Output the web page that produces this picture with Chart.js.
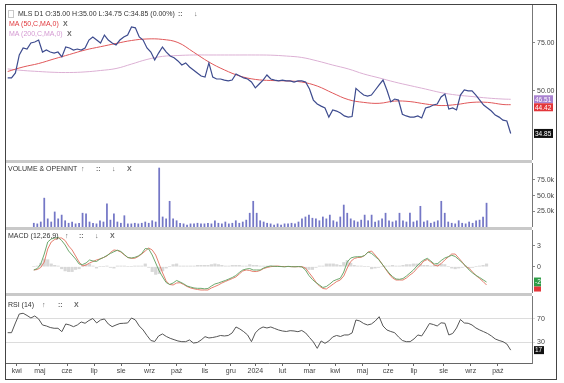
<!DOCTYPE html>
<html>
<head>
<meta charset="utf-8">
<script src="https://cdn.jsdelivr.net/npm/chart.js@4.4.1/dist/chart.umd.min.js"></script>
<style>
  html, body { margin: 0; padding: 0; background: #fff; }
  #wrap { position: relative; width: 564px; height: 383px; overflow: hidden; font-family: "Liberation Sans", Arial, sans-serif; }
  #frame { position: absolute; left: 5px; top: 4px; width: 552px; height: 376px; box-sizing: border-box; border: 1px solid #444; }
  canvas { position: absolute; left: 6px; }
  .sep { position: absolute; left: 6px; width: 526px; height: 3px; background: #c9c9c9; }
  .t { position: absolute; font-size: 7px; line-height: 8px; color: #333; white-space: nowrap; transform: translateY(-50%); }
  .i { color: #666; font-weight: bold; }
</style>
</head>
<body>
<div id="wrap">
  <div id="frame"></div>
  <canvas id="cPrice" width="549" height="155" style="top:5px"></canvas>
  <div class="sep" style="top:160px"></div>
  <canvas id="cVol" width="549" height="64" style="top:163px"></canvas>
  <div class="sep" style="top:227px"></div>
  <canvas id="cMacd" width="549" height="63" style="top:230px"></canvas>
  <div class="sep" style="top:293px"></div>
  <canvas id="cRsi" width="549" height="82" style="top:296px"></canvas>

  <div class="t" style="left:8px;top:14px;width:4px;height:6px;border:1px solid #c8c8c8;"></div>
  <div class="t" style="left:18px;top:14px">MLS D1 O:35.00 H:35.00 L:34.75 C:34.85 (0.00%)</div>
  <div class="t i" style="left:178px;top:14px">::</div>
  <div class="t i" style="left:194px;top:14px">↓</div>
  <div class="t" style="left:9px;top:24px;color:#e0393e">MA (50,C,MA,0)</div>
  <div class="t i" style="left:63px;top:24px">X</div>
  <div class="t" style="left:9px;top:34px;color:#d49ad2">MA (200,C,MA,0)</div>
  <div class="t i" style="left:67px;top:34px">X</div>

  <div class="t" style="left:8px;top:169px">VOLUME &amp; OPENINT</div>
  <div class="t i" style="left:81px;top:169px">↑</div>
  <div class="t i" style="left:96px;top:169px">::</div>
  <div class="t i" style="left:112px;top:169px">↓</div>
  <div class="t i" style="left:127px;top:169px">X</div>

  <div class="t" style="left:8px;top:236px">MACD (12,26,9)</div>
  <div class="t i" style="left:65px;top:236px">↑</div>
  <div class="t i" style="left:79px;top:236px">::</div>
  <div class="t i" style="left:95px;top:236px">↓</div>
  <div class="t i" style="left:110px;top:236px">X</div>

  <div class="t" style="left:8px;top:305px">RSI (14)</div>
  <div class="t i" style="left:42px;top:305px">↑</div>
  <div class="t i" style="left:58px;top:305px">::</div>
  <div class="t i" style="left:74px;top:305px">X</div>
</div>
<script>
// trading-day index 0 = first session of April 2023, one sample every 3 sessions
const FIRST_DAY = -7;
const STEP = 3;
const X_MIN = -8.3;
const X_MAX = 399.5;

const monthDays = [0, 18, 39, 60, 81, 103, 124, 146, 166, 185, 206, 227, 247, 268, 288, 308, 331, 352, 373];
const monthLabels = ['kwi', 'maj', 'cze', 'lip', 'sie', 'wrz', 'paź', 'lis', 'gru', '2024', 'lut', 'mar', 'kwi', 'maj', 'cze', 'lip', 'sie', 'wrz', 'paź'];

const closes = [
  55.7, 55.7, 58.1, 67.6, 71.7, 71.1, 74.8, 75.4, 76.7, 69.3,
  70.5, 69.3, 68.7, 69.3, 66.5, 72.3, 71.7, 70.5, 71.1, 70.5,
  71.7, 76.7, 78.7, 76.7, 74.8, 80.0, 76.7, 74.8, 73.6, 76.7,
  78.7, 80.0, 85.6, 85.0, 78.7, 76.7, 71.7, 69.3, 64.8, 68.7,
  72.3, 69.3, 67.0, 66.0, 64.3, 62.1, 63.2, 61.1, 59.6, 58.1,
  56.6, 56.1, 63.2, 56.1, 55.2, 55.2, 54.7, 54.3, 54.7, 57.6,
  56.6, 55.7, 55.2, 53.8, 51.2, 52.9, 54.7, 57.1, 55.2, 54.7,
  54.3, 54.7, 54.3, 54.3, 53.8, 54.3, 54.3, 53.8, 50.7, 46.2,
  44.7, 43.9, 43.2, 40.0, 42.5, 42.1, 41.4, 40.4, 40.0, 40.2,
  51.0, 49.5, 48.2, 47.8, 48.2, 50.3, 52.5, 54.7, 50.3, 45.5,
  46.6, 46.2, 41.0, 40.4, 40.0, 40.0, 40.4, 39.7, 43.2, 43.6,
  44.3, 44.7, 47.4, 48.6, 42.8, 43.2, 42.5, 48.2, 50.3, 49.9,
  49.9, 48.2, 46.2, 44.3, 43.2, 42.1, 40.7, 40.0, 39.0, 38.7,
  34.85
];

const maDays = [-7, 5, 17, 29, 41, 53, 65, 77, 89, 101, 113, 125, 137, 149, 161, 173, 185,
  197, 209, 221, 233, 245, 257, 269, 281, 293, 305, 317, 329, 341, 353, 365, 377, 383];
const ma50 = [58.8, 61.1, 62.9, 65.4, 67.9, 70.5, 72.5, 74.5, 76.4, 77.4, 77.1, 75.1, 69.3, 63.7, 59.6, 56.6, 55.0,
  54.5, 54.3, 53.8, 52.0, 49.0, 46.4, 45.3, 44.95, 45.8, 45.6, 44.7, 44.1, 44.5, 45.3, 45.3, 44.5, 44.42];
const ma200 = [60.1, 59.3, 58.8, 58.4, 58.3, 58.6, 59.3, 60.3, 62.6, 65.1, 66.8, 67.3, 67.6, 67.6, 67.6, 67.6, 67.6,
  67.5, 67.0, 66.2, 64.3, 62.1, 60.1, 57.6, 55.7, 53.8, 52.2, 50.7, 49.2, 48.2, 47.6, 47.0, 46.6, 46.51];

const volumes = [
  6000, 5000, 8000, 46000, 13000, 8000, 24000, 13000, 19000, 10000,
  6000, 8000, 5000, 6000, 22000, 21000, 8000, 6000, 5000, 10000,
  8000, 37000, 11000, 21000, 8000, 6000, 18000, 5000, 5000, 6000,
  5000, 6000, 8000, 6000, 10000, 8000, 94000, 16000, 13000, 41000,
  13000, 10000, 6000, 5000, 3000, 5000, 5000, 6000, 5000, 5000,
  6000, 5000, 10000, 6000, 5000, 8000, 5000, 6000, 10000, 6000,
  8000, 11000, 22000, 41000, 22000, 10000, 8000, 6000, 5000, 3000,
  5000, 3000, 5000, 5000, 6000, 5000, 8000, 13000, 16000, 19000,
  14000, 13000, 10000, 16000, 13000, 19000, 10000, 8000, 16000, 35000,
  22000, 13000, 10000, 8000, 11000, 19000, 10000, 19000, 8000, 10000,
  13000, 22000, 10000, 8000, 10000, 22000, 10000, 8000, 22000, 8000,
  10000, 33000, 8000, 10000, 6000, 8000, 10000, 41000, 22000, 8000,
  6000, 5000, 10000, 6000, 5000, 8000, 6000, 10000, 11000, 16000,
  38000
];

const macd = [
  -0.47, -0.26, 0.39, 1.81, 3.53, 3.96, 4.10, 4.17, 3.74, 3.10,
  2.24, 1.67, 1.10, 0.39, 0.31, 0.53, 0.96, 0.81, 0.74, 1.10,
  1.31, 1.60, 1.89, 2.14, 2.36, 2.17, 1.74, 1.31, 1.24, 1.34,
  1.53, 1.89, 2.60, 2.53, 1.67, 0.53, -0.61, -1.47, -2.26, -2.54,
  -2.33, -1.97, -2.19, -2.43, -2.76, -2.90, -3.04, -3.09, -3.09, -3.16,
  -3.11, -2.76, -2.47, -2.33, -2.14, -1.97, -1.76, -1.54, -1.26, -0.83,
  -0.47, -0.33, -0.26, -0.47, -0.47, -0.47, -0.19, 0.0, 0.10, 0.06,
  0.03, 0.02, -0.03, 0.05, 0.01, -0.02, 0.03, -0.04, -0.47, -1.26,
  -1.83, -2.26, -2.61, -2.97, -2.83, -2.47, -2.04, -1.83, -1.66, -0.76,
  0.67, 1.24, 1.39, 1.43, 1.43, 1.60, 2.10, 1.89, 1.46, 1.03,
  0.39, -0.26, -0.90, -1.40, -1.76, -1.80, -1.69, -1.33, -0.90, -0.47,
  0.10, 0.60, 0.96, 1.20, 0.81, 0.39, 0.46, 0.89, 1.24, 1.43,
  1.63, 1.46, 1.03, 0.60, 0.10, -0.47, -0.90, -1.26, -1.54, -1.87,
  -2.19
];
const signal = [
  -0.47, -0.40, -0.11, 0.67, 2.53, 3.53, 3.89, 4.10, 4.10, 3.74,
  2.96, 2.39, 1.53, 0.67, 0.10, 0.24, 0.53, 0.74, 0.96, 1.10,
  1.31, 1.53, 2.03, 2.39, 2.31, 2.10, 1.67, 1.31, 1.20, 1.20,
  1.46, 1.81, 2.24, 2.67, 2.39, 1.67, 0.39, -0.90, -2.04, -2.54,
  -2.61, -2.33, -2.29, -2.54, -2.83, -3.04, -3.16, -3.26, -3.33, -3.33,
  -3.33, -3.04, -2.83, -2.61, -2.33, -2.11, -1.90, -1.69, -1.47, -1.04,
  -0.61, -0.47, -0.54, -0.69, -0.69, -0.54, -0.26, -0.11, 0.0, 0.06,
  0.10, 0.03, 0.03, 0.03, 0.0, 0.0, 0.0, 0.0, -0.19, -0.83,
  -1.47, -2.19, -2.76, -3.11, -3.19, -2.83, -2.47, -2.11, -1.90, -1.33,
  -0.19, 0.74, 1.17, 1.31, 1.34, 1.60, 2.10, 2.24, 1.67, 1.10,
  0.39, -0.33, -1.04, -1.61, -1.90, -1.90, -1.90, -1.61, -1.19, -0.83,
  -0.26, 0.24, 0.81, 1.03, 0.67, 0.24, 0.10, 0.46, 0.96, 1.39,
  1.81, 1.81, 1.24, 0.67, 0.03, -0.23, -0.76, -1.26, -1.69, -2.11,
  -2.61
];
const histogram = [
  0, 0.1, 0.5, 1.1, 1.0, 0.4, 0.2, 0.1, -0.3, -0.6,
  -0.7, -0.7, -0.4, -0.3, 0.2, 0.3, 0.4, 0.1, -0.2, 0,
  0, 0.1, -0.1, -0.2, 0.1, 0.1, 0.1, 0, 0, 0.1,
  0.1, 0.1, 0.4, -0.1, -0.7, -1.1, -1.0, -0.6, -0.2, 0,
  0.3, 0.4, 0.1, 0.1, 0.1, 0.1, 0.1, 0.2, 0.2, 0.2,
  0.2, 0.3, 0.4, 0.3, 0.2, 0.1, 0.1, 0.2, 0.2, 0.2,
  0.1, 0.1, 0.3, 0.2, 0.2, 0.1, 0.1, 0.1, 0.1, 0,
  0, 0, 0, 0, 0, 0, 0, 0, -0.3, -0.4,
  -0.4, -0.1, 0.1, 0.1, 0.4, 0.4, 0.4, 0.3, 0.2, 0.6,
  0.9, 0.5, 0.2, 0.1, 0.1, 0, 0, -0.3, -0.2, -0.1,
  0, 0.1, 0.1, 0.2, 0.1, 0.1, 0.2, 0.3, 0.3, 0.4,
  0.4, 0.4, 0.2, 0.2, 0.1, 0.2, 0.4, 0.4, 0.3, 0,
  -0.2, -0.3, -0.2, -0.1, 0.1, -0.2, -0.1, 0, 0.1, 0.2,
  0.4
];

const rsi = [
  46.7, 46.7, 63.2, 78.5, 79.7, 76.0, 71.7, 75.1, 70.0, 59.8,
  58.1, 55.5, 54.2, 54.2, 48.4, 61.5, 59.8, 56.9, 59.8, 64.9,
  62.7, 67.4, 70.8, 63.2, 68.3, 70.0, 61.5, 56.9, 59.8, 62.3,
  62.7, 63.2, 71.7, 68.3, 58.1, 51.3, 41.9, 33.4, 31.7, 41.1,
  44.5, 40.2, 37.1, 34.8, 32.6, 31.4, 31.4, 34.3, 29.1, 30.0,
  34.3, 39.9, 37.7, 38.5, 39.9, 41.9, 41.1, 41.9, 46.2, 56.4,
  53.0, 48.4, 42.8, 31.4, 46.2, 53.0, 56.4, 54.7, 56.4, 53.8,
  51.3, 49.6, 48.7, 50.1, 49.6, 48.4, 50.4, 46.2, 38.5, 30.9,
  20.0, 32.6, 28.6, 32.6, 39.4, 41.9, 40.2, 42.8, 42.8, 46.2,
  68.3, 66.6, 62.3, 59.8, 61.5, 66.6, 73.9, 58.1, 51.3, 48.7,
  46.7, 39.4, 33.4, 31.4, 31.4, 36.0, 42.8, 41.1, 51.3, 62.3,
  60.6, 58.1, 63.5, 62.7, 42.8, 45.3, 54.7, 69.1, 63.2, 62.7,
  59.8, 54.7, 51.3, 48.4, 45.3, 41.1, 36.0, 33.4, 31.4, 27.4,
  17
];

const FONT = '"Liberation Sans", Arial, sans-serif';
const days = closes.map((_, i) => FIRST_DAY + i * STEP);
const pts = (vals, xs) => vals.map((v, i) => ({ x: xs[i], y: v }));

function xAxis(show) {
  const ax = { type: 'linear', min: X_MIN, max: X_MAX, bounds: 'data', display: show };
  if (show) {
    Object.assign(ax, {
      border: { display: true, color: '#666' },
      grid: { drawOnChartArea: false, tickLength: 3, color: '#666' },
      ticks: {
        autoSkip: false, maxRotation: 0, padding: 1, color: '#444', font: { size: 7, family: FONT },
        callback: v => monthLabels[monthDays.indexOf(v)]
      },
      afterBuildTicks: s => { s.ticks = monthDays.map(d => ({ value: d })); },
      afterFit: s => { s.height = 15; s.paddingLeft = 0; s.paddingRight = 0; }
    });
  }
  return ax;
}

function yAxis(min, max, tickValues, fmt, gridOnArea, type) {
  return {
    type: type || 'linear', position: 'right', min, max, bounds: 'data',
    border: { display: true, color: '#777' },
    grid: { drawOnChartArea: !!gridOnArea, tickLength: 3, color: gridOnArea ? '#dcdcdc' : '#888' },
    ticks: { padding: 2, color: '#444', font: { size: 7, family: FONT }, callback: fmt },
    afterBuildTicks: s => { s.ticks = tickValues.map(v => ({ value: v })); },
    afterFit: s => { s.width = 23; s.paddingTop = 0; s.paddingBottom = 0; }
  };
}

function boxes(list) {
  return {
    id: 'valueBoxes',
    afterDraw(chart) {
      const { ctx, chartArea, scales } = chart;
      let prevBottom = -Infinity;
      ctx.save();
      ctx.font = '6.5px ' + FONT;
      ctx.textBaseline = 'middle';
      list.forEach(b => {
        let y = scales.y.getPixelForValue(b.value);
        if (y - b.h / 2 < prevBottom) y = prevBottom + b.h / 2;
        prevBottom = y + b.h / 2;
        ctx.fillStyle = b.bg;
        ctx.fillRect(chartArea.right + 2, y - b.h / 2, b.w, b.h);
        ctx.fillStyle = '#fff';
        ctx.fillText(b.text, chartArea.right + 3, y + 0.5);
      });
      ctx.restore();
    }
  };
}

const common = {
  responsive: false,
  animation: false,
  events: [],
  layout: { padding: 0 },
  plugins: { legend: { display: false }, tooltip: { enabled: false } }
};
const line = (data, color, width, tension) => ({
  type: 'line', data, borderColor: color, borderWidth: width, pointRadius: 0, tension: tension || 0, fill: false
});

new Chart(document.getElementById('cPrice'), {
  type: 'line',
  data: {
    datasets: [
      line(pts(closes, days), '#3d4b8e', 1.2),
      line(pts(ma50, maDays), '#e0585a', 1, 0.4),
      line(pts(ma200, maDays), '#dcb0d4', 1, 0.4)
    ]
  },
  options: Object.assign({}, common, {
    scales: {
      x: xAxis(false),
      y: yAxis(27.85, 103.1, [50, 75], v => v.toFixed(2), false, 'logarithmic')
    }
  }),
  plugins: [boxes([
    { value: ma200[ma200.length - 1], text: '46.51', bg: '#a982d0', w: 19, h: 8 },
    { value: ma50[ma50.length - 1], text: '44.42', bg: '#e3363a', w: 19, h: 8 },
    { value: closes[closes.length - 1], text: '34.85', bg: '#111', w: 19, h: 9 }
  ])]
});

new Chart(document.getElementById('cVol'), {
  type: 'bar',
  data: {
    datasets: [{
      data: pts(volumes, days), backgroundColor: '#7477c6', barThickness: 1.1, borderWidth: 0
    }]
  },
  options: Object.assign({}, common, {
    scales: {
      x: xAxis(false),
      y: yAxis(0, 102000, [25000, 50000, 75000], v => (v / 1000).toFixed(1) + 'k', false)
    }
  })
});

new Chart(document.getElementById('cMacd'), {
  type: 'line',
  data: {
    datasets: [
      line(pts(macd, days), '#5e9e5e', 0.9),
      line(pts(signal, days), '#e2705e', 0.9),
      { type: 'bar', data: pts(histogram, days), backgroundColor: '#d8d8d8', barThickness: 2.5, borderWidth: 0 }
    ]
  },
  options: Object.assign({}, common, {
    scales: {
      x: xAxis(false),
      y: yAxis(-3.757, 5.243, [0, 3], v => String(v), false)
    }
  }),
  plugins: [boxes([
    { value: macd[macd.length - 1], text: '-2', bg: '#2e9d47', w: 7, h: 9 },
    { value: signal[signal.length - 1], text: '', bg: '#e3363a', w: 7, h: 5 }
  ])]
});

new Chart(document.getElementById('cRsi'), {
  type: 'line',
  data: { datasets: [line(pts(rsi, days), '#555', 1)] },
  options: Object.assign({}, common, {
    scales: {
      x: xAxis(true),
      y: yAxis(-4.9, 109.1, [30, 70], v => String(v), true)
    }
  }),
  plugins: [boxes([
    { value: rsi[rsi.length - 1], text: '17', bg: '#111', w: 10, h: 8 }
  ])]
});
</script>
</body>
</html>
